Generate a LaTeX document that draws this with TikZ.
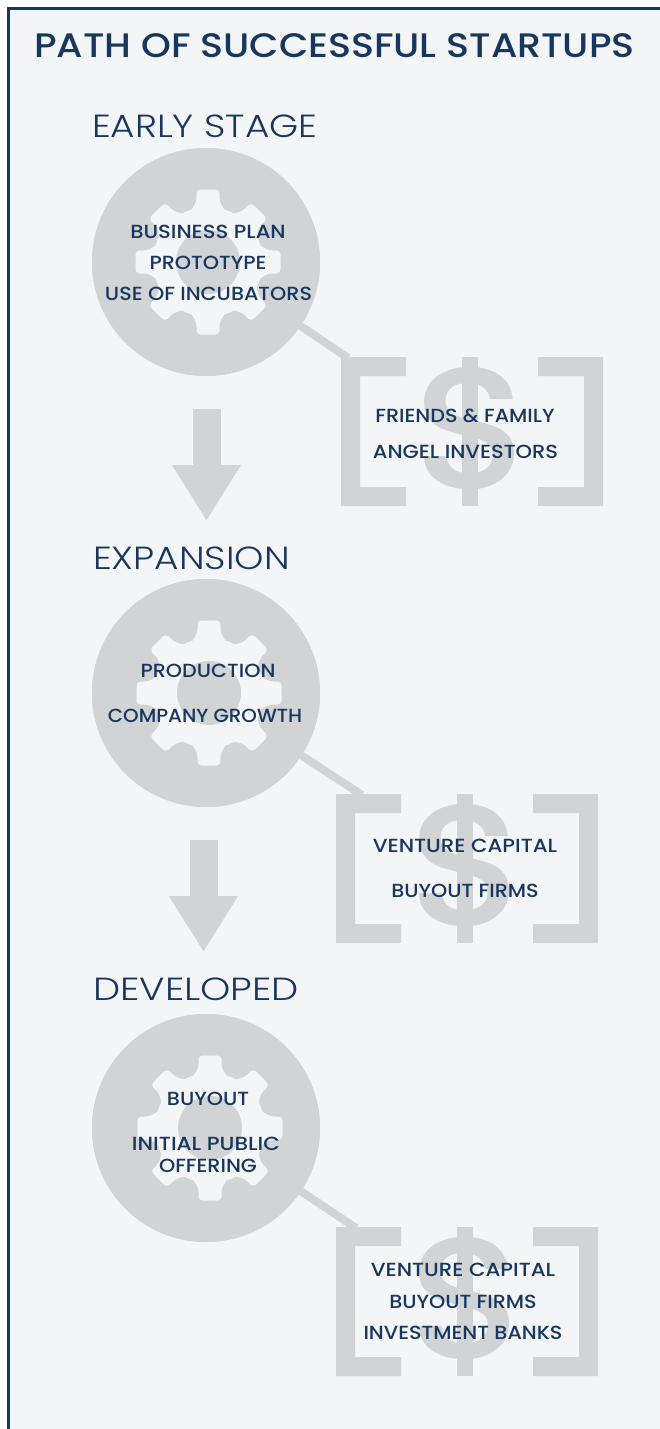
\documentclass[tikz,border=0pt]{standalone}
\usepackage{fontspec}
\setmainfont{Poppins}
\newfontfamily\titlef[FakeStretch=1.117]{Poppins Medium}
\newfontfamily\lightf[FakeStretch=1.167]{Poppins Light}
\newfontfamily\medf[FakeStretch=1.09]{Poppins Medium}
\newfontfamily\dollarf[FakeStretch=1.08]{Poppins Medium}
\usetikzlibrary{arrows.meta}
\definecolor{navy}{HTML}{17375E}
\definecolor{pale}{HTML}{F4F5F7}
\definecolor{gry}{HTML}{D1D3D4}
\tikzset{
  x=1pt,y=-1pt,
  titletxt/.style={anchor=base,inner sep=0,text=navy,font=\titlef\fontsize{34}{38}\selectfont},
  headtxt/.style={anchor=base west,inner sep=0,text=navy,font=\lightf\fontsize{32}{36}\selectfont},
  itemtxt/.style={anchor=base,inner sep=0,text=navy,font=\medf\fontsize{19}{21}\selectfont},
  widen/.style={transform shape,xscale=#1},
  disc/.style={circle,fill=gry,minimum size=228pt,inner sep=0},
  link/.style={draw=gry,line width=8pt},
  flow/.style={draw=gry,line width=28pt,-{Triangle[length=56pt,width=65pt]}},
  gearpic/.pic={
    \fill[pale] (0,0) circle[radius=55];
    \foreach \a in {0,45,...,315}
      \fill[pale,rotate=\a,rounded corners=4pt] (-18,-50) -- (-11.5,-60) -- (-11.5,-72.5) -- (11.5,-72.5) -- (11.5,-60) -- (18,-50) -- cycle;
    \fill[gry] (0,0) circle[radius=32];
  },
  moneypic/.pic={
    \fill[gry] (0,0) -- (65,0) -- (65,19) -- (19,19) -- (19,130) -- (65,130) -- (65,149) -- (0,149) -- cycle;
    \fill[gry] (197,0) -- (262,0) -- (262,149) -- (197,149) -- (197,130) -- (243,130) -- (243,19) -- (197,19) -- cycle;
    \fill[gry] (121,0) rectangle (137,149);
    \begin{scope}
      \clip (60,0) rectangle (200,149);
      \node[inner sep=0,text=gry,font=\dollarf\fontsize{172}{172}\selectfont] at (133,72) {\$};
    \end{scope}
  }
}
\begin{document}
\begin{tikzpicture}
\useasboundingbox (0,0) rectangle (660,1429);
\fill[white] (0,0) rectangle (660,1429);
\fill[pale] (8.5,8.5) rectangle (660,1429);
\draw[navy,line width=2.5pt] (8.5,1429) -- (8.5,8.5) -- (660,8.5);
\node[titletxt] (title) at (334.5,57) {PATH OF SUCCESSFUL STARTUPS};
% stage 1
\node[headtxt] (h1) at (92,137) {EARLY STAGE};
\node[disc] (c1) at (206,262) {};
\coordinate (b1) at (348,358);
\draw[link] (c1) -- (b1);
\node[disc] (c1b) at (206,262) {};
\pic at (208,262) {gearpic};
\pic at (341,357) {moneypic};
\node[itemtxt,widen=1.02] (t11) at (208,238) {BUSINESS PLAN};
\node[itemtxt] (t12) at (208,269) {PROTOTYPE};
\node[itemtxt] (t13) at (208.5,300) {USE OF INCUBATORS};
\node[itemtxt] (f11) at (465,422) {FRIENDS \& FAMILY};
\node[itemtxt,widen=1.015] (f12) at (465.5,458) {ANGEL INVESTORS};
\coordinate (a1s) at (206.5,409);
\coordinate (a1e) at (206.5,521);
\draw[flow] (a1s) -- (a1e);
% stage 2
\node[headtxt] (h2) at (93,569) {EXPANSION};
\node[disc] (c2) at (206,693) {};
\coordinate (b2) at (362,795);
\draw[link] (c2) -- (b2);
\node[disc] (c2b) at (206,693) {};
\pic at (209,693) {gearpic};
\pic at (336,794) {moneypic};
\node[itemtxt] (t21) at (208,677) {PRODUCTION};
\node[itemtxt,widen=0.96] (t22) at (205,722) {COMPANY GROWTH};
\node[itemtxt,widen=1.03] (f21) at (465,852) {VENTURE CAPITAL};
\node[itemtxt] (f22) at (465,897) {BUYOUT FIRMS};
\coordinate (a2s) at (203.5,840);
\coordinate (a2e) at (203.5,952);
\draw[flow] (a2s) -- (a2e);
% stage 3
\node[headtxt,widen=1.03] (h3) at (93,1000) {DEVELOPED};
\node[disc] (c3) at (206,1128) {};
\coordinate (b3) at (356,1228);
\draw[link] (c3) -- (b3);
\node[disc] (c3b) at (206,1128) {};
\pic at (210,1128) {gearpic};
\pic at (336,1227) {moneypic};
\node[itemtxt] (t31) at (208,1105) {BUYOUT};
\node[itemtxt,widen=1.04] (t32) at (206,1150) {INITIAL PUBLIC};
\node[itemtxt] (t33) at (208,1172) {OFFERING};
\node[itemtxt,widen=1.03] (f31) at (463,1276) {VENTURE CAPITAL};
\node[itemtxt] (f32) at (463,1308) {BUYOUT FIRMS};
\node[itemtxt] (f33) at (463,1339) {INVESTMENT BANKS};
\end{tikzpicture}
\end{document}
